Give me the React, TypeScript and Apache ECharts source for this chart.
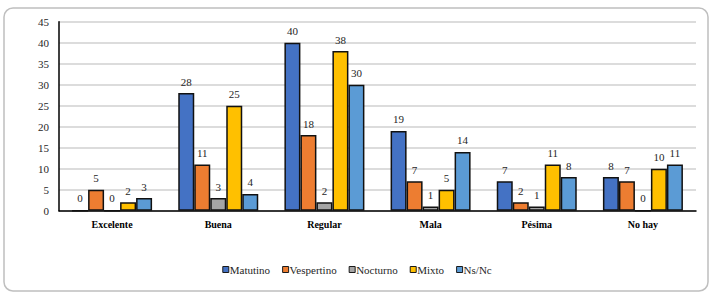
import React, { useEffect, useRef } from "react";
import * as echarts from "echarts";

const categories = ["Excelente", "Buena", "Regular", "Mala", "Pésima", "No hay"];
const seriesNames = ["Matutino", "Vespertino", "Nocturno", "Mixto", "Ns/Nc"];
const matutino = [0, 28, 40, 19, 7, 8];
const vespertino = [5, 11, 18, 7, 2, 7];
const nocturno = [0, 3, 2, 1, 1, 0];
const mixto = [2, 25, 38, 5, 11, 10];
const nsnc = [3, 4, 30, 14, 8, 11];
const colors = ["#4472C4", "#ED7D31", "#A5A5A5", "#FFC000", "#5B9BD5"];

const FONT = "Liberation Serif, Times New Roman, serif";

export default function App() {
  const ref = useRef<HTMLDivElement>(null);
  useEffect(() => {
    if (!ref.current) return;
    const chart = echarts.init(ref.current, null, { renderer: "svg" });
    const values = [matutino, vespertino, nocturno, mixto, nsnc];
    chart.setOption({
      animation: false,
      backgroundColor: "#ffffff",
      textStyle: { fontFamily: FONT },
      graphic: [
        {
          type: "rect",
          shape: { x: 4, y: 8, width: 704, height: 283, r: 9 },
          style: { fill: "none", stroke: "#bfbfbf", lineWidth: 1.5 },
          silent: true,
        },
      ],
      grid: { left: 59, right: 18, top: 21.7, bottom: 88.3, containLabel: false },
      legend: {
        bottom: 19,
        left: "center",
        itemWidth: 6,
        itemHeight: 6,
        itemGap: 12,
        icon: "rect",
        itemStyle: { borderColor: "#1a1a1a", borderWidth: 1 },
        textStyle: { fontFamily: FONT, fontSize: 11, color: "#262626", padding: [0, 0, 0, -4] },
        data: seriesNames,
      },
      xAxis: {
        type: "category",
        data: categories,
        axisLine: { show: true, lineStyle: { color: "#000", width: 1.5 } },
        axisTick: { show: false },
        axisLabel: { fontFamily: FONT, fontSize: 10, color: "#000", fontWeight: "bold", margin: 9 },
      },
      yAxis: {
        type: "value",
        min: 0,
        max: 45,
        interval: 5,
        axisLine: { show: true, lineStyle: { color: "#000", width: 1.5 } },
        axisTick: { show: false },
        axisLabel: { fontFamily: FONT, fontSize: 11, color: "#262626", margin: 10 },
        splitLine: { lineStyle: { color: "#d0d0d0", width: 1.5 } },
      },
      series: seriesNames.map((name, i) => ({
        name,
        type: "bar",
        data: values[i],
        barWidth: 16,
        barGap: "0%",
        itemStyle: { color: colors[i], borderColor: "#111", borderWidth: 1.5 },
        label: {
          show: true,
          position: "top",
          distance: 6,
          fontFamily: FONT,
          fontSize: 11,
          color: "#262626",
        },
      })),
    });
    return () => chart.dispose();
  }, []);
  return (
    <div
      ref={ref}
      style={{ position: "fixed", left: 0, top: 0, width: 714, height: 299 }}
    />
  );
}
